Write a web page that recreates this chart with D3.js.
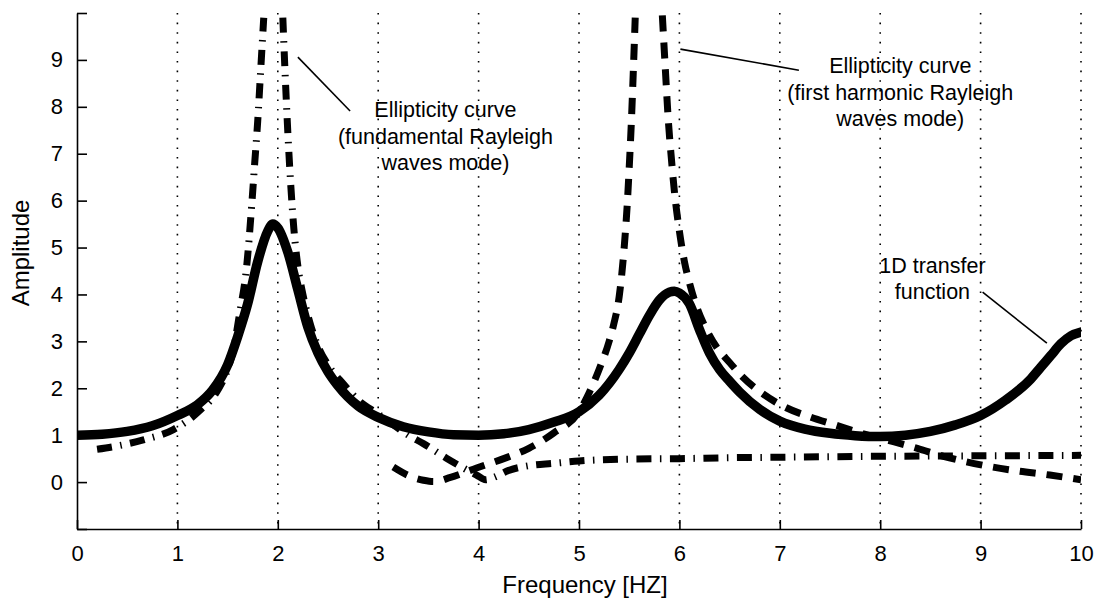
<!DOCTYPE html>
<html>
<head>
<meta charset="utf-8">
<script src="https://cdn.jsdelivr.net/npm/d3@7/dist/d3.min.js"></script>
<style>
  html, body { margin: 0; padding: 0; background: #fff; }
  svg { display: block; font-family: "Liberation Sans", Arial, Helvetica, sans-serif; }
</style>
</head>
<body>
<svg id="chart" width="1098" height="603"></svg>
<script>
// Axis ticks
const xTickValues = [0, 1, 2, 3, 4, 5, 6, 7, 8, 9, 10];
const yTickValues = [-1, 0, 1, 2, 3, 4, 5, 6, 7, 8, 9, 10];
const yTickLabels = [0, 1, 2, 3, 4, 5, 6, 7, 8, 9];

// 1D transfer function (solid)
const transferFreq = [0, 0.25, 0.5, 0.75, 1.0, 1.2, 1.35, 1.5, 1.6, 1.7, 1.8, 1.9, 1.95, 2.0, 2.1,
  2.2, 2.3, 2.4, 2.5, 2.6, 2.8, 3.0, 3.25, 3.5, 3.75, 4.0, 4.25, 4.5, 4.75, 5.0, 5.2, 5.4, 5.5,
  5.6, 5.7, 5.8, 5.9, 5.95, 6.0, 6.1, 6.2, 6.3, 6.4, 6.5, 6.6, 6.8, 7.0, 7.25, 7.5, 7.75, 8.0,
  8.25, 8.5, 8.75, 9.0, 9.25, 9.5, 9.6, 9.7, 9.8, 9.9, 10.0];
const transferAmp = [1.0, 1.02, 1.08, 1.2, 1.42, 1.65, 1.96, 2.5, 3.1, 3.8, 4.7, 5.35, 5.5, 5.42, 4.9,
  4.1, 3.3, 2.75, 2.35, 2.05, 1.62, 1.38, 1.18, 1.07, 1.01, 1.0, 1.03, 1.12, 1.28, 1.5, 1.85, 2.4, 2.75,
  3.15, 3.55, 3.88, 4.05, 4.07, 4.03, 3.8, 3.25, 2.75, 2.4, 2.15, 1.92, 1.55, 1.3, 1.13, 1.04, 0.99, 0.97,
  1.0, 1.08, 1.22, 1.42, 1.75, 2.2, 2.45, 2.7, 2.95, 3.12, 3.2];

// Ellipticity, fundamental Rayleigh mode (dash-dot); null marks the off-scale peak
const fundamentalFreq = [0.2, 0.4, 0.66, 0.96, 1.22, 1.4, 1.5, 1.56, 1.62, 1.69, 1.74, 1.77, 1.8, 1.83, 1.86,
  null, 2.05, 2.07, 2.1, 2.13, 2.16, 2.2, 2.25, 2.32, 2.4, 2.5, 2.65, 2.8, 3.0, 3.15, 3.3, 3.45, 3.68,
  3.85, 3.98, 4.07, 4.15, 4.3, 4.5, 4.75, 5.0, 5.5, 6.0, 6.5, 7.0, 8.0, 9.0, 10.0];
const fundamentalAmp = [0.7, 0.77, 0.9, 1.12, 1.52, 1.95, 2.4, 2.85, 3.6, 4.6, 5.9, 6.8, 7.7, 8.8, 9.9,
  null, 9.9, 8.85, 7.45, 6.3, 5.4, 4.6, 4.0, 3.4, 2.9, 2.5, 2.1, 1.75, 1.45, 1.22, 1.0, 0.82, 0.51,
  0.3, 0.15, 0.05, 0.1, 0.25, 0.35, 0.4, 0.45, 0.49, 0.5, 0.52, 0.53, 0.55, 0.56, 0.57];

// Ellipticity, first harmonic Rayleigh mode (dashed)
const harmonicFreq = [3.15, 3.3, 3.45, 3.55, 3.72, 3.98, 4.25, 4.5, 4.75, 5.0, 5.1, 5.2, 5.3, 5.35, 5.4,
  5.45, 5.48, 5.5, 5.52, 5.54, 5.56, null, 5.83, 5.86, 5.89, 5.92, 5.95, 6.0, 6.05, 6.1, 6.17, 6.27,
  6.37, 6.5, 6.63, 6.8, 7.05, 7.3, 7.55, 7.8, 8.1, 8.37, 8.63, 8.86, 9.12, 9.36, 9.69, 10.0];
const harmonicAmp = [0.32, 0.14, 0.04, 0.01, 0.1, 0.3, 0.5, 0.72, 1.05, 1.5, 1.9, 2.4, 3.0, 3.4, 3.95,
  5.0, 5.9, 6.7, 7.6, 8.7, 9.9, null, 9.95, 8.8, 7.7, 6.9, 6.2, 5.35, 4.7, 4.25, 3.75, 3.25,
  2.88, 2.55, 2.24, 1.93, 1.6, 1.39, 1.22, 1.05, 0.88, 0.72, 0.55, 0.43, 0.32, 0.24, 0.15, 0.05];

// Callout text (data coordinates) and leader lines
const calloutLines = [
  ["Ellipticity curve", "(fundamental Rayleigh", "waves mode)"],
  ["Ellipticity curve", "(first harmonic Rayleigh", "waves mode)"],
  ["1D transfer", "function"]
];
const calloutAnchors = [[3.67, 7.78], [8.2, 8.72], [8.52, 4.46]];
const leaderStarts = [[2.2, 9.06], [6.01, 9.23], [9.02, 4.05]];
const leaderEnds = [[2.72, 7.91], [7.19, 8.78], [9.66, 2.96]];

const margin = { top: 13, right: 17, bottom: 74, left: 77 };
const width = 1098, height = 603;
const svg = d3.select("#chart");

const x = d3.scaleLinear().domain([0, 10]).range([margin.left, width - margin.right]);
const y = d3.scaleLinear().domain([-1, 10]).range([height - margin.bottom, margin.top]);

svg.append("defs").append("clipPath").attr("id", "plotClip")
  .append("rect")
  .attr("x", x(0)).attr("y", y(10))
  .attr("width", x(10) - x(0)).attr("height", y(-1) - y(10));

// Dotted vertical grid
svg.append("g").selectAll("line")
  .data(xTickValues.filter(d => d > 0))
  .join("line")
  .attr("x1", d => x(d)).attr("x2", d => x(d))
  .attr("y1", y(10)).attr("y2", y(-1))
  .attr("stroke", "#000")
  .attr("stroke-width", 1.6)
  .attr("stroke-dasharray", "1.6,8");

// Callouts
const textG = svg.append("g").attr("font-size", 21.5).attr("fill", "#000");
calloutLines.forEach((lines, i) => {
  const [cx, cy] = calloutAnchors[i];
  const t = textG.append("text")
    .attr("x", x(cx)).attr("y", y(cy))
    .attr("text-anchor", "middle");
  lines.forEach((s, j) => {
    t.append("tspan").attr("x", x(cx)).attr("dy", j === 0 ? 0 : 26.5).text(s);
  });
});
svg.append("g").selectAll("line")
  .data(leaderStarts.map((s, i) => [s, leaderEnds[i]]))
  .join("line")
  .attr("x1", d => x(d[0][0])).attr("y1", d => y(d[0][1]))
  .attr("x2", d => x(d[1][0])).attr("y2", d => y(d[1][1]))
  .attr("stroke", "#000").attr("stroke-width", 1.6);

// Curves
const toPoints = (fs, as) => fs.map((f, i) => ({ f, a: as[i] }));
const line = d3.line()
  .defined(d => d.a !== null && d.f !== null)
  .x(d => x(d.f)).y(d => y(d.a))
  .curve(d3.curveMonotoneX);

const plot = svg.append("g").attr("clip-path", "url(#plotClip)");

plot.append("path")
  .datum(toPoints(transferFreq, transferAmp))
  .attr("d", line)
  .attr("fill", "none").attr("stroke", "#000")
  .attr("stroke-width", 9.5)
  .attr("stroke-linejoin", "round").attr("stroke-linecap", "round");

plot.append("path")
  .datum(toPoints(fundamentalFreq, fundamentalAmp))
  .attr("d", line)
  .attr("fill", "none").attr("stroke", "#000")
  .attr("stroke-width", 7)
  .attr("stroke-dasharray", "15,8.5,1.5,8.5");

plot.append("path")
  .datum(toPoints(harmonicFreq, harmonicAmp))
  .attr("d", line)
  .attr("fill", "none").attr("stroke", "#000")
  .attr("stroke-width", 7)
  .attr("stroke-dasharray", "16,11");

// Axes (left and bottom only, ticks pointing inward)
const xAxis = d3.axisBottom(x).tickValues(xTickValues).tickSizeInner(-9).tickSizeOuter(0)
  .tickPadding(16).tickFormat(d3.format("d"));
const gx = svg.append("g").attr("transform", `translate(0,${y(-1)})`).call(xAxis);

const yAxis = d3.axisLeft(y).tickValues(yTickValues).tickSizeInner(-10).tickSizeOuter(0)
  .tickPadding(14).tickFormat(d => yTickLabels.includes(d) ? d : "");
const gy = svg.append("g").attr("transform", `translate(${x(0)},0)`).call(yAxis);

[gx, gy].forEach(g => {
  g.select(".domain").attr("stroke", "#000").attr("stroke-width", 1.6);
  g.selectAll(".tick line").attr("stroke", "#000").attr("stroke-width", 1.6);
  g.selectAll(".tick text").attr("font-size", 22).attr("fill", "#000")
    .attr("font-family", "'Liberation Sans', Arial, sans-serif");
});

// Axis titles
svg.append("text")
  .attr("x", 585).attr("y", 593)
  .attr("text-anchor", "middle")
  .attr("font-size", 24)
  .text("Frequency [HZ]");

svg.append("text")
  .attr("transform", `translate(29,253) rotate(-90)`)
  .attr("text-anchor", "middle")
  .attr("font-size", 24)
  .text("Amplitude");
</script>
</body>
</html>
